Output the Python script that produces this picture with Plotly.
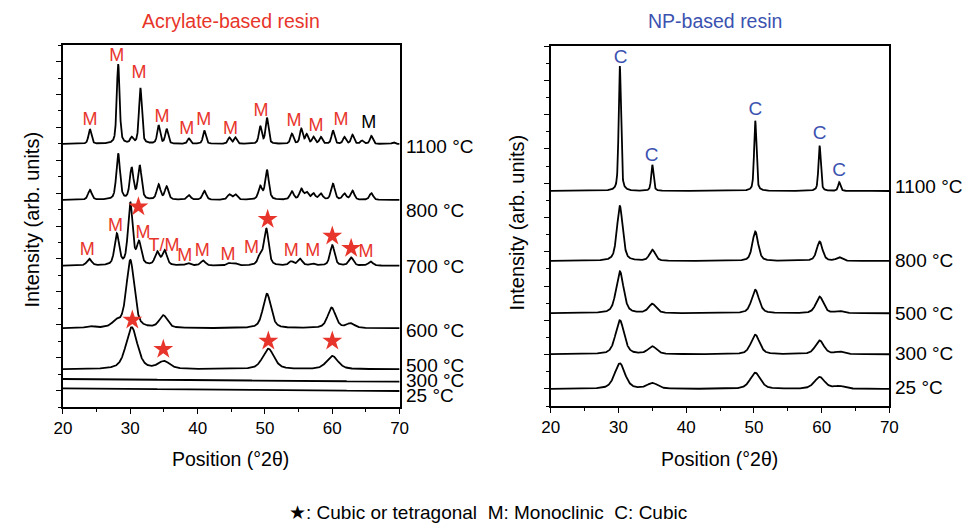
import numpy as np
import plotly.graph_objects as go

# ---------------- DATA ----------------
# Acrylate-based resin (left panel): peak positions (°2θ), heights (arb.), widths (FWHM °), baselines
acr_labels = ["1100 °C", "800 °C", "700 °C", "600 °C", "500 °C", "300 °C", "25 °C"]
acr_1100_pos = [24.0, 28.2, 30.2, 31.5, 34.2, 35.4, 38.7, 41.0, 44.7, 45.6, 49.3, 50.3, 54.0, 55.4, 56.2, 57.2, 58.3, 60.1, 61.8, 63.0, 64.4, 65.8, 69.1]
acr_1100_h = [14.7, 79.7, 5.7, 55.7, 18.3, 14.7, 5.3, 13.3, 6.3, 6.3, 17.3, 25.7, 10, 14.7, 9, 6.7, 6.7, 13.3, 6.7, 9, 3.3, 8, 1.7]
acr_800_pos = [24.0, 28.2, 30.2, 31.4, 34.2, 35.4, 38.7, 41.0, 44.7, 45.6, 49.3, 50.3, 54.0, 55.4, 56.2, 57.2, 58.3, 60.1, 61.8, 63.0, 65.8]
acr_800_h = [10, 46, 31, 33.5, 15, 13, 4.7, 9, 5.3, 5.3, 13, 29.5, 8.3, 10.5, 7, 6, 6, 16, 6, 9, 6.7]
acr_700_pos = [23.9, 28.0, 30.0, 31.3, 34.0, 35.1, 38.6, 40.8, 44.7, 45.6, 49.3, 50.2, 53.9, 55.2, 57.0, 60.0, 62.8, 65.7]
acr_700_h = [6.7, 31, 62, 22, 13, 14.5, 2.3, 5, 2.3, 2, 9.5, 36.5, 4, 6.7, 2, 20.5, 8, 4]
acr_600_pos = [24.0, 27.9, 30.0, 34.9, 50.3, 59.9, 62.7]
acr_600_h = [1.7, 6.0, 68.0, 12.5, 34.5, 20.5, 4.5]
acr_500_pos = [30.2, 35.0, 50.5, 60.0]
acr_500_h = [42.0, 7.5, 20.5, 13.2]
acr_300_pos = []
acr_300_h = []
acr_25_pos = []
acr_25_h = []
acr_widths = [0.5, 0.65, 0.8, 1.4, 2.0, 1.0, 1.0]
acr_base_start = [263.0, 207.0, 141.3, 78.7, 37.7, 28.0, 18.7]
acr_base_end = [263.0, 207.0, 141.3, 78.7, 37.7, 25.3, 16.0]

# NP-based resin (right panel)
np_labels = ["1100 °C", "800 °C", "500 °C", "300 °C", "25 °C"]
np_pos = [30.2, 35.0, 50.2, 59.7, 62.6]
np_1100_h = [125, 26, 70.3, 45.3, 8.7]
np_800_h = [55, 11.0, 29.5, 19.5, 3.5]
np_500_h = [42.0, 9.2, 23.5, 16.7, 2.0]
np_300_h = [34.0, 7.6, 19.6, 13.8, 2.4]
np_25_h = [25.5, 5.7, 16.2, 11.9, 2.7]
np_widths = [0.4, 1.0, 1.3, 1.5, 1.8]
np_base = [215.0, 145.0, 92.7, 51.7, 17.0]

# Phase markers (left): stars (cubic/tetragonal) and M labels
star_x = [31.2, 50.4, 60.0, 62.8, 30.3, 34.9, 50.5, 60.0]
star_y = [200.3, 187.7, 171.0, 158.7, 87.0, 57.7, 66.0, 66.0]
m_x = [24.0, 28.0, 31.3, 34.7, 38.4, 40.9, 44.9, 49.4, 54.3, 57.6, 61.3,
       27.8, 23.6, 31.9, 35.0, 38.1, 40.7, 44.5, 48.0, 53.9, 57.1, 65.0]
m_y = [287, 350.3, 333.7, 289.3, 278, 287, 278, 295.3, 285.3, 280.3, 287,
       180.3, 157, 173.7, 161, 151, 155.3, 152, 158.7, 155.3, 155.3, 154.3]
m_text = ["M"] * 11 + ["M", "M", "M", "T/M", "M", "M", "M", "M", "M", "M", "M"]
m_black_x = [65.4]
m_black_y = [283.7]
c_x = [30.3, 34.9, 50.2, 59.7, 62.6]
c_y = [347.7, 250.0, 296.0, 272.0, 234.3]

acr_label_y = [260.3, 197, 140.3, 77, 42, 27, 12]
np_label_y = [219.3, 146, 93, 53, 19]

# ---------------- BUILD ----------------
RED = "#e8352b"
BLUE = "#3b52b0"
FONT = "Arial, Liberation Sans, sans-serif"
W, H = 970, 523


def fx(px):
    return px / W


def fy(py):
    return 1 - py / H


x = np.linspace(20, 70, 2501)


def pattern(pos, hts, w, b0, b1, eta=0.5):
    y = b0 + (b1 - b0) * (x - 20) / 50.0
    for c, h in zip(pos, hts):
        d2 = 4 * (x - c) ** 2 / w ** 2
        y = y + h * (eta / (1 + d2) + (1 - eta) * np.exp(-np.log(2) * d2))
    return y


fig = go.Figure()

acr_pos = [acr_1100_pos, acr_800_pos, acr_700_pos, acr_600_pos, acr_500_pos, acr_300_pos, acr_25_pos]
acr_h = [acr_1100_h, acr_800_h, acr_700_h, acr_600_h, acr_500_h, acr_300_h, acr_25_h]
for i in range(len(acr_labels)):
    y = pattern(acr_pos[i], acr_h[i], acr_widths[i], acr_base_start[i], acr_base_end[i])
    fig.add_trace(go.Scatter(x=x, y=y, mode="lines", line=dict(color="black", width=1.8),
                             xaxis="x", yaxis="y", showlegend=False, hoverinfo="skip"))

np_h = [np_1100_h, np_800_h, np_500_h, np_300_h, np_25_h]
for i in range(len(np_labels)):
    y = pattern(np_pos, np_h[i], np_widths[i], np_base[i], np_base[i])
    fig.add_trace(go.Scatter(x=x, y=y, mode="lines", line=dict(color="black", width=1.8),
                             xaxis="x2", yaxis="y2", showlegend=False, hoverinfo="skip"))

fig.add_trace(go.Scatter(x=star_x, y=star_y, mode="markers",
                         marker=dict(symbol="star", size=15, color=RED, line=dict(width=0)),
                         xaxis="x", yaxis="y", showlegend=False, hoverinfo="skip"))
fig.add_trace(go.Scatter(x=m_x, y=m_y, mode="text", text=m_text,
                         textfont=dict(family=FONT, size=18, color=RED),
                         xaxis="x", yaxis="y", showlegend=False, hoverinfo="skip"))
fig.add_trace(go.Scatter(x=m_black_x, y=m_black_y, mode="text", text=["M"],
                         textfont=dict(family=FONT, size=18, color="black"),
                         xaxis="x", yaxis="y", showlegend=False, hoverinfo="skip"))
fig.add_trace(go.Scatter(x=c_x, y=c_y, mode="text", text=["C"] * len(c_x),
                         textfont=dict(family=FONT, size=19, color=BLUE),
                         xaxis="x2", yaxis="y2", showlegend=False, hoverinfo="skip"))

axcommon = dict(showline=True, linecolor="black", linewidth=1.5, mirror=True,
                ticks="outside", tickcolor="black", showgrid=False, zeroline=False)
xcommon = dict(axcommon, range=[20, 70], tickmode="linear", tick0=20, dtick=10, ticklen=5,
               tickwidth=1.2, tickfont=dict(family=FONT, size=17, color="black"),
               minor=dict(dtick=5, ticklen=3, tickcolor="black", ticks="outside", tickwidth=1.2))

fig.update_layout(
    width=W, height=H,
    margin=dict(l=0, r=0, t=0, b=0),
    paper_bgcolor="white", plot_bgcolor="white",
    xaxis=dict(xcommon, domain=[fx(55), fx(398)], anchor="y"),
    yaxis=dict(axcommon, domain=[fy(407), fy(45)], anchor="x",
               range=[0, 362], tickmode="linear", tick0=16.45, dtick=32.9, ticklen=5,
               tickwidth=1.2, showticklabels=False,
               minor=dict(tick0=0, dtick=16.45, ticklen=3, tickcolor="black", ticks="outside", tickwidth=1.2)),
    xaxis2=dict(xcommon, domain=[fx(552), fx(897)], anchor="y2"),
    yaxis2=dict(axcommon, domain=[fy(406), fy(46)], anchor="x2",
                range=[0, 360], tickmode="linear", tick0=17.14, dtick=34.28, ticklen=5,
                tickwidth=1.2, showticklabels=False,
                minor=dict(tick0=0, dtick=17.14, ticklen=3, tickcolor="black", ticks="outside", tickwidth=1.2)),
)

ann = []
for t, yy in zip(acr_labels, acr_label_y):
    ann.append(dict(text=t, x=1, xref="x domain", y=yy, yref="y", xanchor="left", yanchor="middle",
                    xshift=4, showarrow=False, font=dict(family=FONT, size=19, color="black")))
for t, yy in zip(np_labels, np_label_y):
    ann.append(dict(text=t, x=1, xref="x2 domain", y=yy, yref="y2", xanchor="left", yanchor="middle",
                    xshift=4, showarrow=False, font=dict(family=FONT, size=19, color="black")))


def pann(text, px, py, size, color="black", angle=0):
    return dict(text=text, x=fx(px), y=fy(py), xref="paper", yref="paper", xanchor="center",
                yanchor="middle", textangle=angle, showarrow=False,
                font=dict(family=FONT, size=size, color=color))


ann += [
    pann("Acrylate-based resin", 226, 21, 19.5, RED),
    pann("NP-based resin", 719, 21, 19.5, BLUE),
    pann("Intensity (arb. units)", 23, 220, 20, angle=-90),
    pann("Intensity (arb. units)", 518, 222, 20, angle=-90),
    pann("Position (°2θ)", 226, 459, 19.5),
    pann("Position (°2θ)", 724, 459, 19.5),
    pann("★: Cubic or tetragonal \u00a0M: Monoclinic \u00a0C: Cubic", 488, 512, 19),
]
fig.update_layout(annotations=ann)

fig.write_html("out.html", config={"displayModeBar": False},
               post_script="document.body.style.margin='0px';document.body.style.overflow='hidden';")
